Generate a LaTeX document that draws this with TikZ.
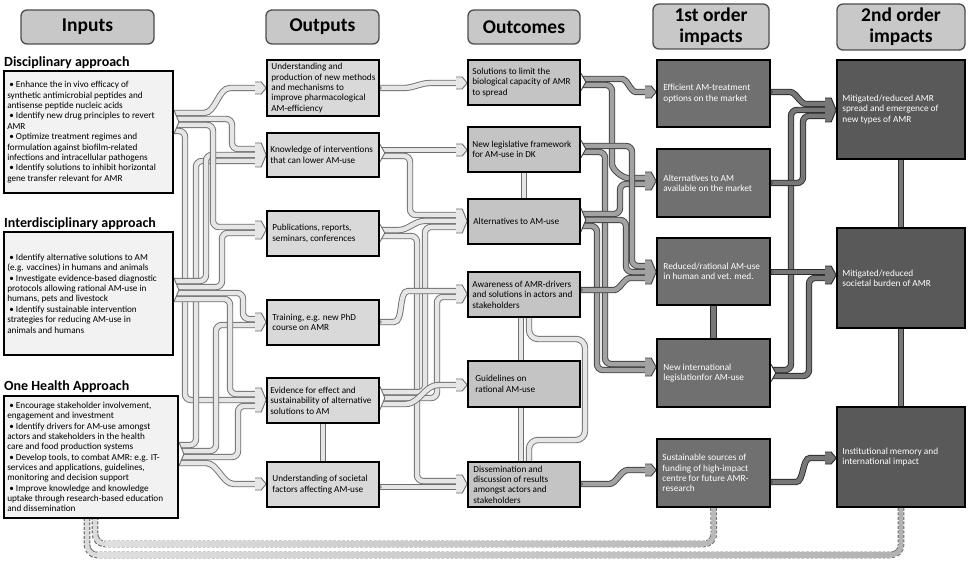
\documentclass[tikz,border=0pt]{standalone}
\usepackage{fontspec}
\setmainfont{Carlito}
\usetikzlibrary{calc}
\pgfdeclarelayer{back}
\pgfdeclarelayer{tubes}
\pgfsetlayers{back,tubes,main}

\definecolor{inpfill}{HTML}{F2F2F2}
\definecolor{outfill}{HTML}{D9D9D9}
\definecolor{outcfill}{HTML}{C4C4C4}
\definecolor{firstfill}{HTML}{707070}
\definecolor{secfill}{HTML}{595959}
\definecolor{hdfill}{HTML}{C8C8C8}
\definecolor{hdline}{HTML}{4D4D4D}
\definecolor{tLb}{HTML}{6E6E6E}
\definecolor{tLf}{HTML}{E6E6E6}
\definecolor{tMb}{HTML}{404040}
\definecolor{tMf}{HTML}{A2A2A2}
\definecolor{tDb}{HTML}{2B2B2B}
\definecolor{tDf}{HTML}{777777}
\definecolor{fbline}{HTML}{707070}

\tikzset{
 tube/.style 2 args={draw=#1, line width=0.9pt, double=#2, double distance=4.5pt, rounded corners=6pt},
 tubeL/.style={tube={tLb}{tLf}},
 tubeM/.style={tube={tMb}{tMf}},
 tubeD/.style={tube={tDb}{tDf}},
 inbox/.style={draw=black, line width=1.8pt, fill=inpfill, inner sep=0pt},
 outbox/.style={draw=black, line width=1.6pt, fill=outfill, inner sep=0pt, minimum width=112pt},
 ocbox/.style={draw=black, line width=1.6pt, fill=outcfill, inner sep=0pt, minimum width=112pt},
 fobox/.style={draw=black, line width=1.6pt, fill=firstfill, inner sep=0pt, minimum width=113pt},
 sobox/.style={draw=black, line width=1.6pt, fill=secfill, inner sep=0pt, minimum width=128pt},
 btxt/.style={anchor=west, align=left, inner sep=0pt, font=\fontsize{9.2}{10.4}\selectfont},
 wtxt/.style={anchor=west, align=left, inner sep=0pt, text=white, font=\fontsize{9.3}{10.3}\selectfont},
 head/.style={draw=hdline, line width=1.3pt, fill=hdfill, rounded corners=6pt, inner sep=0pt, align=center, font=\bfseries\fontsize{19.5}{21}\selectfont},
 sect/.style={anchor=west, inner sep=0pt, font=\bfseries\fontsize{14}{15}\selectfont},
 fbdash/.style={draw=fbline, line width=6.6pt, dash pattern=on 3pt off 1.5pt, rounded corners=10pt},
 fbin/.style={line width=4.4pt, rounded corners=10pt},
}

\newcommand{\tubehead}[4]{%
 \begin{scope}[shift={#3}]
 \fill[#2] (-11,-#4) -- (-5,-#4) -- (0,0) -- (-5,#4) -- (-11,#4) -- cycle;
 \draw[#1, line width=0.9pt, line join=miter] (-11,-#4) -- (-5,-#4) -- (0,0) -- (-5,#4) -- (-11,#4);
 \end{scope}}
\newcommand{\tubenotch}[3]{%
 \begin{scope}[shift={#2}]
 \fill[white] (0,-#3) -- (5,0) -- (0,#3) -- cycle;
 \draw[#1, line width=0.9pt] (0,-#3) -- (5,0) -- (0,#3);
 \end{scope}}
\newcommand{\tubecap}[2]{%
 \draw[#1, fill=white, line width=0.6pt] #2 circle (1.6);}

\begin{document}
\begin{tikzpicture}[x=1pt, y=-1pt]
\useasboundingbox (0,0) rectangle (970,567);
\begin{pgfonlayer}{back}
\fill[white] (0,0) rectangle (970,567);
\end{pgfonlayer}

% headers
\node[head, minimum width=133pt, minimum height=34pt] (hIn) at (87.5,27) {Inputs};
\node[head, minimum width=113pt, minimum height=34pt] (hOut) at (322.5,27) {Outputs};
\node[head, minimum width=112pt, minimum height=34pt] (hOc) at (524,27) {Outcomes};
\node[head, minimum width=116pt, minimum height=45pt] (hF) at (711,26.5) {1st order\\impacts};
\node[head, minimum width=128pt, minimum height=46pt] (hS) at (901,27) {2nd order\\impacts};

% inputs
\node[sect] (tD) at (4,63) {Disciplinary approach};
\node[inbox, minimum width=169pt, minimum height=122pt] (ID) at (88.5,132) {};
\node[btxt] (IDt) at ([xshift=4pt]ID.west) {\hspace*{2pt}\textbullet\ Enhance the in vivo efficacy of\\synthetic antimicrobial peptides and\\antisense peptide nucleic acids\\\hspace*{2pt}\textbullet\ Identify new drug principles to revert\\AMR\\\hspace*{2pt}\textbullet\ Optimize treatment regimes and\\formulation against biofilm-related\\infections and intracellular pathogens\\\hspace*{2pt}\textbullet\ Identify solutions to inhibit horizontal\\gene transfer relevant for AMR};

\node[sect] (tI) at (4,224) {Interdisciplinary approach};
\node[inbox, minimum width=169pt, minimum height=123pt] (II) at (88.5,293.5) {};
\node[btxt] (IIt) at ([xshift=4pt]II.west) {\hspace*{2pt}\textbullet\ Identify alternative solutions to AM\\(e.g. vaccines) in humans and animals\\\hspace*{2pt}\textbullet\ Investigate evidence-based diagnostic\\protocols allowing rational AM-use in\\humans, pets and livestock\\\hspace*{2pt}\textbullet\ Identify sustainable intervention\\strategies for reducing AM-use in\\animals and humans};

\node[sect] (tH) at (4,387) {One Health Approach};
\node[inbox, minimum width=174pt, minimum height=122pt] (IH) at (91,457) {};
\node[btxt, font=\fontsize{9.2}{10.3}\selectfont] (IHt) at ([xshift=4pt]IH.west) {\hspace*{2pt}\textbullet\ Encourage stakeholder involvement,\\engagement and investment\\\hspace*{2pt}\textbullet\ Identify drivers for AM-use amongst\\actors and stakeholders in the health\\care and food production systems\\\hspace*{2pt}\textbullet\ Develop tools, to combat AMR: e.g. IT-\\services and applications, guidelines,\\monitoring and decision support\\\hspace*{2pt}\textbullet\ Improve knowledge and knowledge\\uptake through research-based education\\and dissemination};

% outputs
\node[outbox, minimum height=56pt] (O1) at (323,88) {};
\node[outbox, minimum height=44pt] (O2) at (323,155) {};
\node[outbox, minimum height=45pt] (O3) at (323,233.5) {};
\node[outbox, minimum height=45pt] (O4) at (323,322.5) {};
\node[outbox, minimum height=45pt] (O5) at (323,400.5) {};
\node[outbox, minimum height=45pt] (O6) at (323,484.5) {};
\node[btxt] (O1t) at ([xshift=5pt]O1.west) {Understanding and\\production of new methods\\and mechanisms to\\improve pharmacological\\AM-efficiency};
\node[btxt] (O2t) at ([xshift=4pt]O2.west) {Knowledge of interventions\\that can lower AM-use};
\node[btxt] (O3t) at ([xshift=6pt]O3.west) {Publications, reports,\\seminars, conferences};
\node[btxt] (O4t) at ([xshift=6pt]O4.west) {Training, e.g. new PhD\\course on AMR};
\node[btxt] (O5t) at ([xshift=4pt]O5.west) {Evidence for effect and\\sustainability of alternative\\solutions to AM};
\node[btxt] (O6t) at ([xshift=6pt]O6.west) {Understanding of societal\\factors affecting AM-use};

% outcomes
\node[ocbox, minimum height=45pt] (C1) at (524,82.5) {};
\node[ocbox, minimum height=45pt] (C2) at (524,149.5) {};
\node[ocbox, minimum height=45pt] (C3) at (524,221.5) {};
\node[ocbox, minimum height=45pt] (C4) at (524,294.5) {};
\node[ocbox, minimum height=46pt] (C5) at (524,384) {};
\node[ocbox, minimum height=45pt] (C6) at (524,484.5) {};
\node[btxt] (C1t) at ([xshift=5pt]C1.west) {Solutions to limit the\\biological capacity of AMR\\to spread};
\node[btxt] (C2t) at ([xshift=5pt]C2.west) {New legislative framework\\for AM-use in DK};
\node[btxt] (C3t) at ([xshift=6pt]C3.west) {Alternatives to AM-use};
\node[btxt] (C4t) at ([xshift=5pt]C4.west) {Awareness of AMR-drivers\\and solutions in actors and\\stakeholders};
\node[btxt] (C5t) at ([xshift=8pt]C5.west) {Guidelines on\\rational AM-use};
\node[btxt] (C6t) at ([xshift=6pt]C6.west) {Dissemination and\\discussion of results\\amongst actors and\\stakeholders};

% 1st order impacts
\node[fobox, minimum height=67pt] (F1) at (713.5,93.5) {};
\node[fobox, minimum height=68pt] (F2) at (713.5,183) {};
\node[fobox, minimum height=67pt] (F3) at (713.5,271.5) {};
\node[fobox, minimum height=68pt] (F4) at (713.5,373) {};
\node[fobox, minimum height=68pt] (F5) at (713.5,473) {};
\node[wtxt] (F1t) at ([xshift=7pt]F1.west) {Efficient AM-treatment\\options on the market};
\node[wtxt] (F2t) at ([xshift=7pt]F2.west) {Alternatives to AM\\available on the market};
\node[wtxt] (F3t) at ([xshift=7pt]F3.west) {Reduced/rational AM-use\\in human and vet. med.};
\node[wtxt] (F4t) at ([xshift=7pt]F4.west) {New international\\legislationfor AM-use};
\node[wtxt] (F5t) at ([xshift=6pt]F5.west) {Sustainable sources of\\funding of high-impact\\centre for future AMR-\\research};

% 2nd order impacts
\node[sobox, minimum height=99pt] (S1) at (901,109.5) {};
\node[sobox, minimum height=100pt] (S2) at (901,278) {};
\node[sobox, minimum height=100pt] (S3) at (901,457) {};
\node[wtxt] (S1t) at ([xshift=6pt]S1.west) {Mitigated/reduced AMR\\spread and emergence of\\new types of AMR};
\node[wtxt] (S2t) at ([xshift=6pt]S2.west) {Mitigated/reduced\\societal burden of AMR};
\node[wtxt] (S3t) at ([xshift=6pt]S3.west) {Institutional memory and\\international impact};

\foreach \n in {O1,O2,O3,O4,O5,O6,C1,C2,C3,C4,C5,C6,F1,F2,F3,F4,F5,S1,S2,S3}
 \coordinate (in\n) at ([xshift=-9pt]\n.west);

\begin{pgfonlayer}{tubes}
% ---- feedback dashed tubes
\draw[fbdash] (S3.south) -- (901,555) -- (87,555) -- (IH.south -| 87,0);
\draw[fbin, gray!28] (S3.south) -- (901,555) -- (87,555) -- (IH.south -| 87,0);
\shade[left color=gray!25, right color=gray!60] (97,552.8) rectangle (891,557.2);
\draw[fbin, gray!60] (891,555) -- (901,555) -- (S3.south);

\draw[fbdash] (F5.south) -- (714,544) -- (95,544) -- (IH.south -| 95,0);
\draw[fbin, gray!28] (F5.south) -- (714,544) -- (95,544) -- (IH.south -| 95,0);
\shade[left color=gray!25, right color=gray!55] (105,541.8) rectangle (704,546.2);
\draw[fbin, gray!55] (704,544) -- (714,544) -- (F5.south);

% ---- inputs -> outputs
\draw[tubeL] (ID.east |- 0,131) -- (185,131) -- (185,400) -- (inO5 |- 0,400);
\draw[tubeL] (IH.east |- 0,445) -- (196,445) -- (196,161) -- (inO2 |- 0,161);
\draw[tubeL] (II.east |- 0,281) -- (206,281) -- (206,155) -- (inO2 |- 0,155);
\draw[tubeL] (ID.east |- 0,125) -- (213,125) -- (213,227) -- (inO3 |- 0,227);
\draw[tubeL] (IH.east |- 0,451) -- (216,451) -- (216,325) -- (inO4 |- 0,325);
\draw[tubeL] (II.east |- 0,287) -- (222,287) -- (222,233) -- (inO3 |- 0,233);
\draw[tubeL] (II.east |- 0,299) -- (230,299) -- (230,394) -- (inO5 |- 0,394);
\draw[tubeL] (ID.east |- 0,119) -- (232,119) -- (232,149) -- (inO2 |- 0,149);
\draw[tubeL] (IH.east |- 0,457) -- (238,457) -- (238,406) -- (inO5 |- 0,406);
\draw[tubeL] (II.east |- 0,293) -- (243,293) -- (243,319) -- (inO4 |- 0,319);
\draw[tubeL] (ID.east |- 0,113) -- (198,113) to[out=0,in=180] (236,88) -- (inO1 |- 0,88);
\draw[tubeL] (IH.east |- 0,463) -- (200,463) to[out=0,in=180] (240,484) -- (inO6 |- 0,484);

% ---- outputs -> outcomes
\draw[tubeL] (O1.east |- 0,88) -- (398,88) to[out=0,in=180] (436,83) -- (inC1 |- 0,83);
\draw[tubeL] (O2.east |- 0,150) -- (inC2 |- 0,150);
\draw[tubeL] (O2.east |- 0,156) -- (410,156) -- (410,215) -- (inC3 |- 0,215);
\draw[tubeL] (O3.east |- 0,236) -- (417,236) -- (417,481) -- (inC6 |- 0,481);
\draw[tubeL] (O3.east |- 0,230) -- (393,230) to[out=0,in=180] (430,221) -- (inC3 |- 0,221);
\draw[tubeL] (O5.east |- 0,392) -- (425,392) -- (425,227) -- (inC3 |- 0,227);
\draw[tubeL] (O5.east |- 0,398) -- (437,398) -- (437,297) -- (inC4 |- 0,297);
\draw[tubeL] (O4.east |- 0,322) -- (388,322) to[out=0,in=180] (414,291) -- (inC4 |- 0,291);
\draw[tubeL] (O5.east |- 0,404) -- (400,404) to[out=0,in=180] (444,385) -- (inC5 |- 0,385);
\draw[tubeL] (O6.east |- 0,487) -- (inC6 |- 0,487);

% ---- links among outputs / outcomes
\draw[tubeL] (O5.south) -- (O6.north);
\draw[tubeL] (C2.south) -- (C3.north);
\draw[tubeL] (C4.south -| 521,0) -- (C5.north -| 521,0);
\draw[tubeL] (C5.south -| 521,0) -- (C6.north -| 521,0);
\draw[tubeL, rounded corners=9pt] (C4.south -| 529,0) -- (529,339) -- (585,339) -- (585,440) -- (529,440) -- (C6.north -| 529,0);

% ---- outcomes -> 1st order
\draw[tubeM] (C3.east |- 0,226) -- (597,226) -- (597,370) -- (inF4 |- 0,370);
\draw[tubeM] (C2.east |- 0,152) -- (605,152) -- (605,364) -- (inF4 |- 0,364);
\draw[tubeM] (C1.east |- 0,85) -- (612,85) -- (612,158) to[out=-90,in=180] (634,178) -- (inF2 |- 0,178);
\draw[tubeM] (C3.east |- 0,214) -- (620,214) -- (620,184) -- (inF2 |- 0,184);
\draw[tubeM] (C3.east |- 0,220) -- (626,220) -- (626,272) -- (inF3 |- 0,272);
\draw[tubeM] (C2.east |- 0,146) -- (632,146) -- (632,266) -- (inF3 |- 0,266);
\draw[tubeM] (C4.east |- 0,290) -- (608,290) to[out=0,in=180] (636,278) -- (inF3 |- 0,278);
\draw[tubeM] (C1.east |- 0,79) -- (616,79) to[out=0,in=180] (642,92) -- (inF1 |- 0,92);
\draw[tubeM] (C6.east |- 0,484) -- (603,484) to[out=0,in=180] (634,470) -- (inF5 |- 0,470);

% ---- 1st -> 2nd order
\draw[tubeD] (F3.south) -- (F4.north);
\draw[tubeD] (F4.east |- 0,370) -- (791,370) -- (791,110) -- (inS1 |- 0,110);
\draw[tubeD] (F2.east |- 0,183) -- (803,183) -- (803,116) -- (inS1 |- 0,116);
\draw[tubeD] (F1.east |- 0,92) -- (784,92) to[out=0,in=180] (812,104) -- (inS1 |- 0,104);
\draw[tubeD] (F3.east |- 0,272) -- (inS2 |- 0,272);
\draw[tubeD] (F4.east |- 0,376) -- (809,376) -- (809,278) -- (inS2 |- 0,278);
\draw[tubeD] (F5.east |- 0,482) -- (790,482) to[out=0,in=180] (816,458) -- (inS3 |- 0,458);
\draw[tubeD] (S1.south) -- (S2.north);
\draw[tubeD] (S2.south) -- (S3.north);

% ---- arrow heads
\tubehead{tLb}{tLf}{(O1.west |- 0,88)}{6}
\tubehead{tLb}{tLf}{(O2.west |- 0,155)}{12}
\tubehead{tLb}{tLf}{(O3.west |- 0,230)}{9}
\tubehead{tLb}{tLf}{(O4.west |- 0,322)}{9}
\tubehead{tLb}{tLf}{(O5.west |- 0,400)}{12}
\tubehead{tLb}{tLf}{(O6.west |- 0,484)}{6}
\tubehead{tLb}{tLf}{(C1.west |- 0,83)}{6}
\tubehead{tLb}{tLf}{(C2.west |- 0,150)}{6}
\tubehead{tLb}{tLf}{(C3.west |- 0,221)}{12}
\tubehead{tLb}{tLf}{(C4.west |- 0,294)}{9}
\tubehead{tLb}{tLf}{(C5.west |- 0,385)}{6}
\tubehead{tLb}{tLf}{(C6.west |- 0,484)}{9}
\tubehead{tMb}{tMf}{(F1.west |- 0,92)}{6}
\tubehead{tMb}{tMf}{(F2.west |- 0,181)}{9}
\tubehead{tMb}{tMf}{(F3.west |- 0,272)}{12}
\tubehead{tMb}{tMf}{(F4.west |- 0,367)}{9}
\tubehead{tMb}{tMf}{(F5.west |- 0,470)}{6}
\tubehead{tDb}{tDf}{(S1.west |- 0,110)}{12}
\tubehead{tDb}{tDf}{(S2.west |- 0,275)}{9}
\tubehead{tDb}{tDf}{(S3.west |- 0,458)}{6}

% ---- source notches
\tubenotch{tLb}{(ID.east |- 0,122)}{12}
\tubenotch{tLb}{(II.east |- 0,290)}{12}
\tubenotch{tLb}{(IH.east |- 0,454)}{12}
\tubenotch{tLb}{(O2.east |- 0,153)}{9}
\tubenotch{tLb}{(O3.east |- 0,233)}{9}
\tubenotch{tLb}{(O5.east |- 0,398)}{12}
\tubenotch{tMb}{(C1.east |- 0,82)}{9}
\tubenotch{tMb}{(C2.east |- 0,149)}{9}
\tubenotch{tMb}{(C3.east |- 0,220)}{12}
\tubenotch{tDb}{(F4.east |- 0,373)}{9}

% ---- single source caps
\tubecap{tLb}{(O1.east |- 0,88)}
\tubecap{tLb}{(O4.east |- 0,322)}
\tubecap{tLb}{(O6.east |- 0,487)}
\tubecap{tMb}{(C4.east |- 0,290)}
\tubecap{tMb}{(C6.east |- 0,484)}
\tubecap{tDb}{(F1.east |- 0,92)}
\tubecap{tDb}{(F2.east |- 0,183)}
\tubecap{tDb}{(F3.east |- 0,272)}
\tubecap{tDb}{(F5.east |- 0,482)}
\end{pgfonlayer}
\end{tikzpicture}
\end{document}
